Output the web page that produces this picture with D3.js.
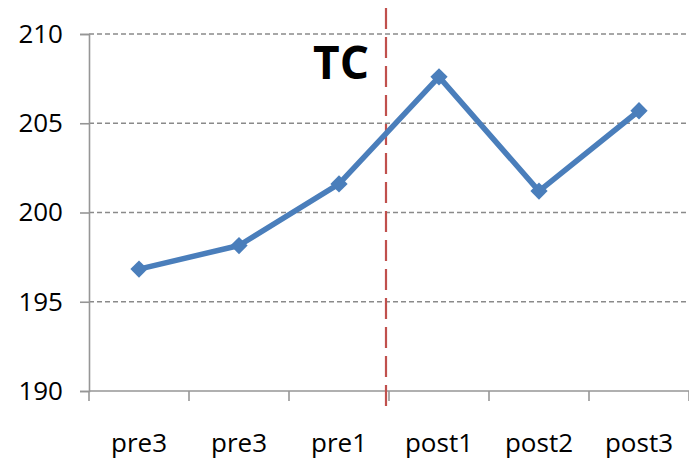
<!DOCTYPE html>
<html>
<head>
<meta charset="utf-8">
<script src="https://cdn.jsdelivr.net/npm/d3@7"></script>
<style>
  html, body { margin: 0; padding: 0; background: #fff; }
  svg { display: block; }
  text { font-family: "Open Sans", "Noto Sans", sans-serif; fill: #000; }
</style>
</head>
<body>
<svg id="chart" width="689" height="463"></svg>
<script>
// Measurement sessions and mean values
const categories = ["pre3", "pre3", "pre1", "post1", "post2", "post3"];
const values = [196.83, 198.15, 201.6, 207.6, 201.2, 205.7];
const yTicks = [190, 195, 200, 205, 210];
const eventLabel = "TC";

const svg = d3.select("#chart");
const plotLeft = 89, plotRight = 689, plotTop = 34, plotBottom = 391;

// index-based band positions so duplicate category names stay separate
const x = d3.scaleBand().domain(d3.range(categories.length)).range([plotLeft, plotRight]).padding(0);
const y = d3.scaleLinear().domain([190, 210]).range([plotBottom, plotTop]);
const cx = i => x(i) + x.bandwidth() / 2;

// horizontal dashed gridlines
svg.append("g").selectAll("line")
  .data(yTicks.filter(t => t !== 190))
  .join("line")
  .attr("x1", plotLeft).attr("x2", plotRight)
  .attr("y1", d => y(d)).attr("y2", d => y(d))
  .attr("stroke", "#8a8a8a").attr("stroke-width", 1.6)
  .attr("stroke-dasharray", "5,3");

// y axis
const yAxis = svg.append("g").attr("transform", `translate(${plotLeft},0)`)
  .call(d3.axisLeft(y).tickValues(yTicks).tickSize(9).tickPadding(17));
yAxis.select(".domain").attr("stroke", "#969696").attr("stroke-width", 1.6);
yAxis.selectAll(".tick line").attr("stroke", "#969696").attr("stroke-width", 1.6);
yAxis.selectAll(".tick text").attr("font-size", 26).attr("font-family", "Open Sans").attr("fill", "#000");

// x axis with tick marks at band boundaries
const xAxisG = svg.append("g");
xAxisG.append("line")
  .attr("x1", plotLeft).attr("x2", plotRight)
  .attr("y1", plotBottom).attr("y2", plotBottom)
  .attr("stroke", "#969696").attr("stroke-width", 1.6);
const boundaries = d3.range(categories.length + 1).map(i => i < categories.length ? x(i) : plotRight);
xAxisG.selectAll("line.tick")
  .data(boundaries)
  .join("line").attr("class", "tick")
  .attr("x1", d => d).attr("x2", d => d)
  .attr("y1", plotBottom).attr("y2", plotBottom + 10)
  .attr("stroke", "#969696").attr("stroke-width", 1.6);
xAxisG.selectAll("text")
  .data(categories)
  .join("text")
  .attr("x", (d, i) => cx(i))
  .attr("y", 452)
  .attr("text-anchor", "middle")
  .attr("font-size", 26)
  .text(d => d);

// event marker between pre1 and post1
const eventX = x(3) - 3;
svg.append("line")
  .attr("x1", eventX).attr("x2", eventX)
  .attr("y1", 8).attr("y2", 406)
  .attr("stroke", "#c0504d").attr("stroke-width", 2.2)
  .attr("stroke-dasharray", "21,8");
svg.append("text")
  .attr("x", eventX - 17).attr("y", 79)
  .attr("text-anchor", "end")
  .attr("font-size", 46)
  .attr("font-weight", "bold")
  .text(eventLabel);

// data line
const line = d3.line().x((d, i) => cx(i)).y(d => y(d));
svg.append("path")
  .datum(values)
  .attr("d", line)
  .attr("fill", "none")
  .attr("stroke", "#4a7ebb")
  .attr("stroke-width", 5.5)
  .attr("stroke-linejoin", "round");

// diamond markers
const diamond = d3.symbol().type(d3.symbolDiamond2).size(190);
svg.append("g").selectAll("path")
  .data(values)
  .join("path")
  .attr("d", diamond)
  .attr("transform", (d, i) => `translate(${cx(i)},${y(d)})`)
  .attr("fill", "#4a7ebb");
</script>
</body>
</html>
